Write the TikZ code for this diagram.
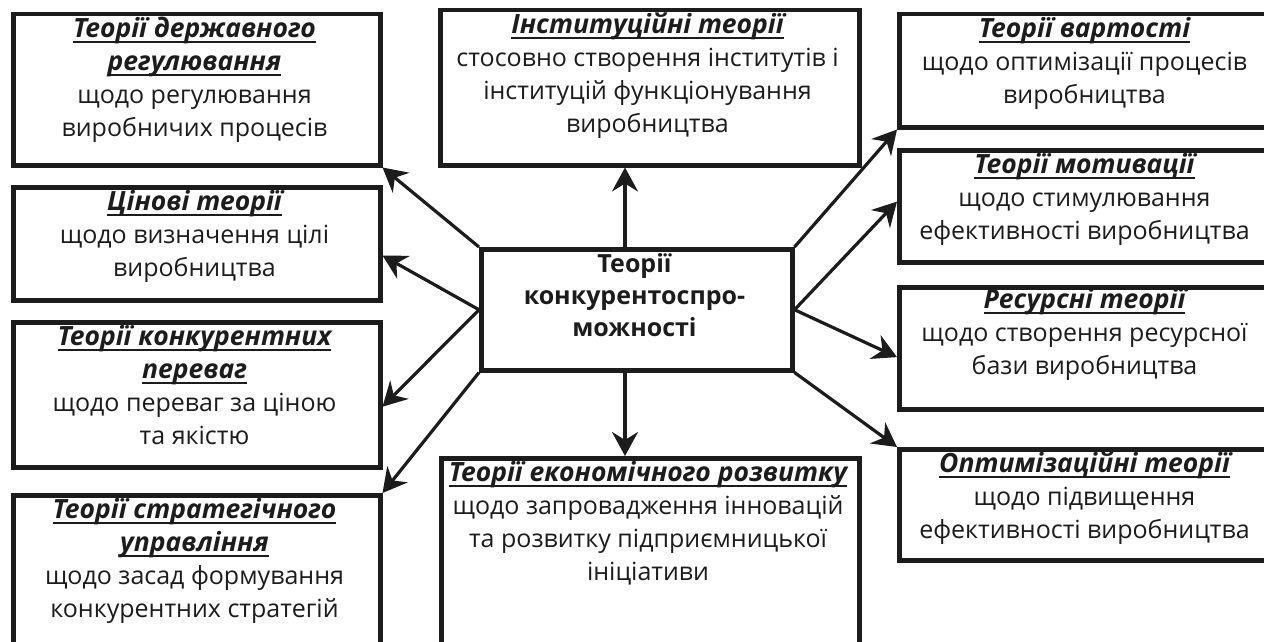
\documentclass[tikz,border=0pt]{standalone}
\usepackage{fontspec}
\setmainfont{Open Sans}
\usetikzlibrary{arrows.meta,calc}
\definecolor{ink}{HTML}{1C1C1C}
\newcommand\ttl[1]{\leavevmode\setbox0\hbox{\fontsize{26.5}{33}\selectfont\bfseries\itshape #1}\rlap{\rule[-6pt]{\wd0}{2.3pt}}\box0}
\newcommand\fl{\rule{0pt}{22pt}}
\begin{document}
\begin{tikzpicture}[x=1pt,y=-1pt,
  box/.style={draw=ink, line width=4.5pt, inner sep=0pt, anchor=north west},
  txt/.style={align=center, anchor=north, inner sep=0pt, font=\fontsize{25}{33}\selectfont, text=ink},
  arr/.style={draw=ink, line width=3.2pt, -{Stealth[length=24pt,width=26pt,inset=8pt]}}]
\useasboundingbox (0,0) rectangle (1264,642);
\clip (0,0) rectangle (1264,642);
\fill[white] (0,0) rectangle (1264,642);
% boxes
\node[box, minimum width=367pt, minimum height=151pt] (L1) at (11,12) {};
\node[box, minimum width=367pt, minimum height=113pt] (L2) at (11,185) {};
\node[box, minimum width=367pt, minimum height=145pt] (L3) at (11,320) {};
\node[box, minimum width=367pt, minimum height=210pt] (L4) at (11,493) {};
\node[box, minimum width=419pt, minimum height=155pt] (T) at (438,8) {};
\node[box, minimum width=311pt, minimum height=121pt] (C) at (479,247) {};
\node[box, minimum width=418pt, minimum height=250pt] (B) at (439,456) {};
\node[box, minimum width=375pt, minimum height=113pt] (R1) at (897,12) {};
\node[box, minimum width=375pt, minimum height=112pt] (R2) at (897,148) {};
\node[box, minimum width=375pt, minimum height=122pt] (R3) at (897,285) {};
\node[box, minimum width=375pt, minimum height=111pt] (R4) at (897,447) {};
% texts
\node[txt] (L1t) at (194.5,15) {\fl\ttl{Теорії державного}\\ \ttl{регулювання}\\ щодо регулювання\\ виробничих процесів};
\node[txt] (L2t) at (194.5,188) {\fl\ttl{Цінові теорії}\\ щодо визначення цілі\\ виробництва};
\node[txt] (L3t) at (194.5,323) {\fl\ttl{Теорії конкурентних}\\ \ttl{переваг}\\ щодо переваг за ціною\\ та якістю};
\node[txt] (L4t) at (194.5,496) {\fl\ttl{Теорії стратегічного}\\ \ttl{управління}\\ щодо засад формування\\ конкурентних стратегій};
\node[txt] (Tt) at (647.5,11) {\fl\ttl{Інституційні теорії}\\ стосовно створення інститутів і\\ інституцій функціонування\\ виробництва};
\node[txt, font=\fontsize{25}{32}\selectfont\bfseries] (Ct) at (634.5,250) {\fl Теорії\\ конкурентоспро-\\ можності};
\node[txt] (Bt) at (648,459) {\fl\ttl{Теорії економічного розвитку}\\ щодо запровадження інновацій\\ та розвитку підприємницької\\ ініціативи};
\node[txt] (R1t) at (1084.5,15) {\fl\ttl{Теорії вартості}\\ щодо оптимізації процесів\\ виробництва};
\node[txt] (R2t) at (1084.5,151) {\fl\ttl{Теорії мотивації}\\ щодо стимулювання\\ ефективності виробництва};
\node[txt] (R3t) at (1084.5,286) {\fl\ttl{Ресурсні теорії}\\ щодо створення ресурсної\\ бази виробництва};
\node[txt] (R4t) at (1084.5,450) {\fl\ttl{Оптимізаційні теорії}\\ щодо підвищення\\ ефективності виробництва};
% arrows
\coordinate (ax) at (625,0);
\draw[arr] (C.north -| ax) -- (T.south -| ax);
\draw[arr] (C.south -| ax) -- (B.north -| ax);
\draw[arr] (C.north west) -- (L1.south east);
\draw[arr] (C.west) -- ($(L2.north east)!0.6!(L2.south east)$);
\draw[arr] (C.west) -- ($(L3.north east)!0.58!(L3.south east)$);
\draw[arr] (C.south west) -- (L4.north east);
\draw[arr] (C.north east) -- (R1.south west);
\draw[arr] (C.east) -- ($(R2.north west)!0.46!(R2.south west)$);
\draw[arr] (C.east) -- ($(R3.north west)!0.57!(R3.south west)$);
\draw[arr] (C.south east) -- (R4.north west);
\end{tikzpicture}
\end{document}
